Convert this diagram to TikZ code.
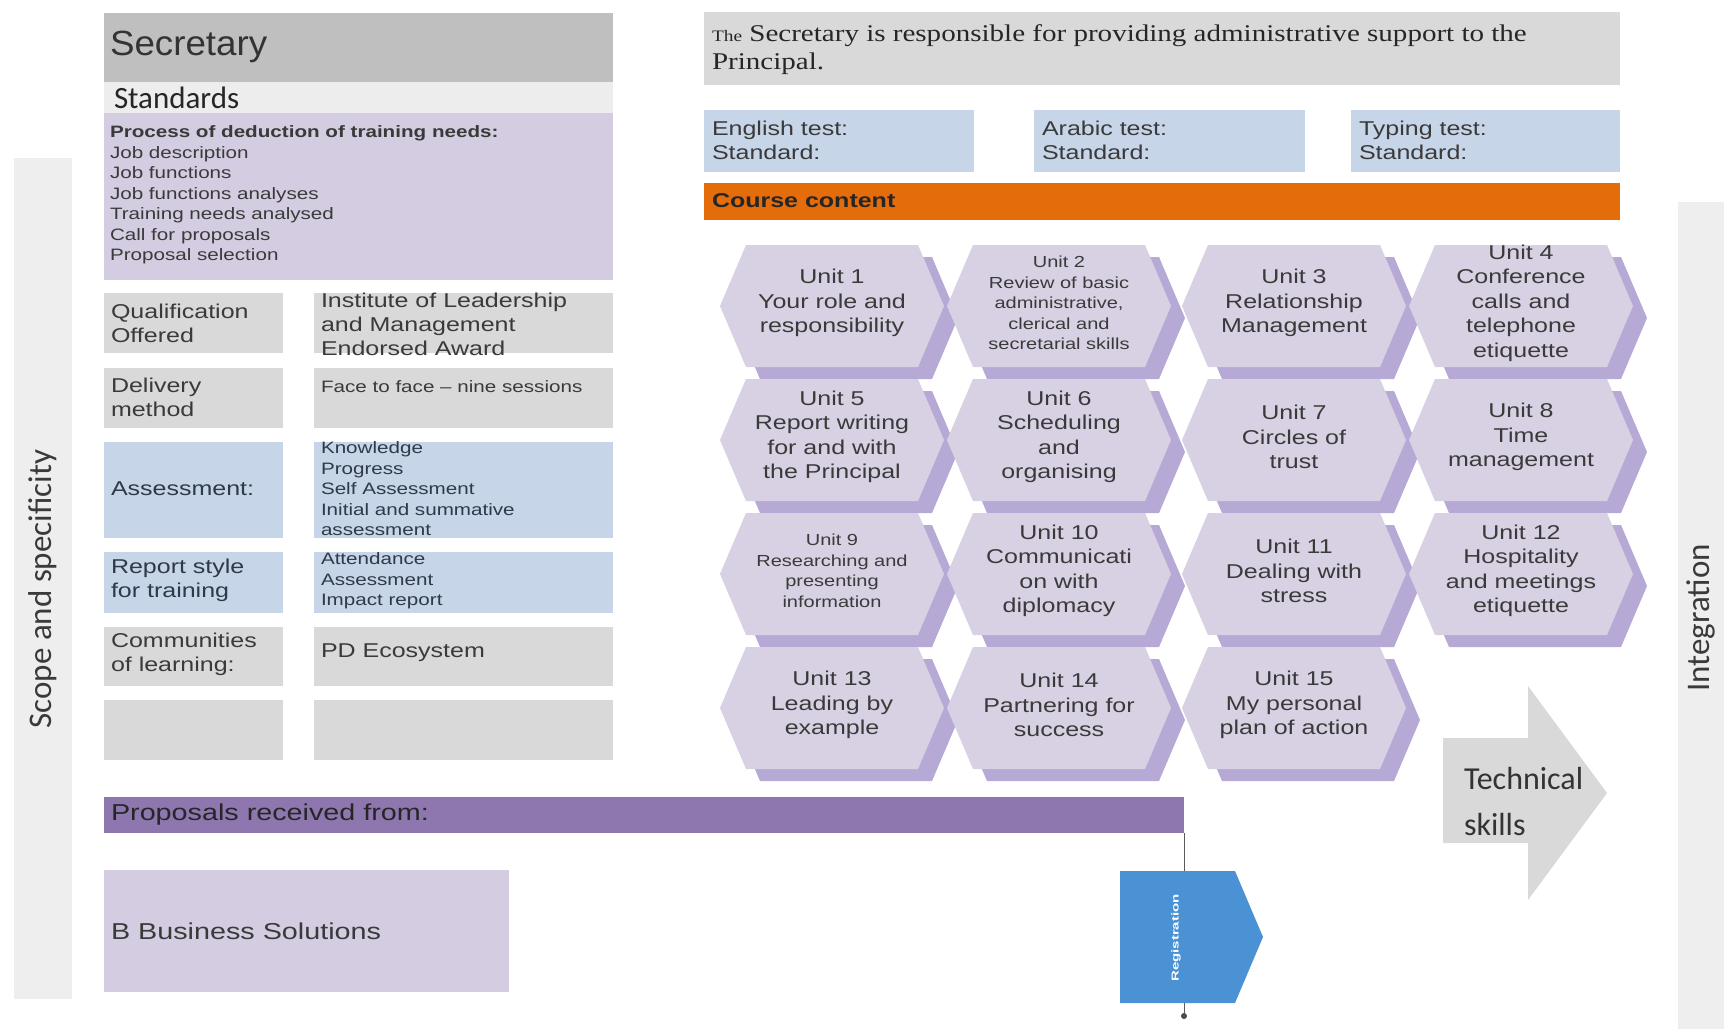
\documentclass[tikz,border=0pt]{standalone}
\usepackage{fontspec}
\setmainfont{Liberation Sans}
\newfontfamily\widesans{Liberation Sans}[FakeStretch=1.25]
\newfontfamily\headsans{Liberation Sans}[FakeStretch=1.05]
\newfontfamily\widserif{Liberation Serif}[FakeStretch=1.21]
\newfontfamily\calfont{Carlito}
\newfontfamily\tallsans{Liberation Sans}[FakeStretch=1.5]
\usetikzlibrary{calc}

\definecolor{boxgray}{HTML}{D9D9D9}
\definecolor{headgray}{HTML}{BFBFBF}
\definecolor{bandgray}{HTML}{EDEDED}
\definecolor{lavender}{HTML}{D4CCE1}
\definecolor{paleblue}{HTML}{C7D5E8}
\definecolor{courseorange}{HTML}{E46C0A}
\definecolor{proposalpurple}{HTML}{8E77AE}
\definecolor{hexface}{HTML}{D8D0E3}
\definecolor{hexshade}{HTML}{B6A9D5}
\definecolor{regblue}{HTML}{4B92D4}
\definecolor{sidegray}{HTML}{EEEEEE}
\definecolor{arrowgray}{HTML}{D9D9D9}
\definecolor{inkgray}{HTML}{3A3A3A}
\definecolor{inkblue}{HTML}{2E394A}

% rectangular panel: name, fill colour, x1, y1, x2, y2 (y grows downwards)
\newcommand\panel[6]{%
  \node[panelbox, fill=#2, minimum width={#5-#3}, minimum height={#6-#4}] (#1) at (#3,#4) {};}

% course unit: name, centre x, centre y, extra text options, text
\newcommand\unithex[5]{%
  \begin{scope}[shift={(#2,#3)}]
    \fill[hexshade] (-98,12) -- (-72,-49) -- (100,-49) -- (126,12) -- (100,73) -- (-72,73) -- cycle;
    \fill[hexface] (-112,0) -- (-86,-61) -- (86,-61) -- (112,0) -- (86,61) -- (-86,61) -- cycle;
    \node[unittext,#4] (#1) at (0,-3) {#5};
  \end{scope}}

\tikzset{
  panelbox/.style={rectangle, draw=none, inner sep=0, outer sep=0, anchor=north west},
  txt/.style={inner sep=0, outer sep=0, align=left, anchor=west, text=inkgray,
              font=\widesans\fontsize{20}{24}\selectfont},
  smalltxt/.style={txt, font=\widesans\fontsize{16.5}{20.5}\selectfont},
  unittext/.style={inner sep=0, outer sep=0, align=center, text=inkgray,
                   font=\widesans\fontsize{20}{24.5}\selectfont},
  unitsmall/.style={font=\widesans\fontsize{16}{20.5}\selectfont},
  sidetxt/.style={inner sep=0, rotate=90, text=inkgray, font=\calfont\fontsize{33}{36}\selectfont},
  link/.style={draw=black!65, line width=0.9pt}
}

\begin{document}
\begin{tikzpicture}[x=1pt, y=-1pt]
\useasboundingbox (0,0) rectangle (1724,1029);
\fill[white] (0,0) rectangle (1724,1029);

% side bars
\panel{scopebar}{sidegray}{14}{158}{72}{999}
\panel{integrationbar}{sidegray}{1678}{202}{1724}{1029}
\node[sidetxt] (scopelabel) at (43,589) {Scope and specificity};
\node[sidetxt] (integrationlabel) at (1701,618) {Integration};

% left column: role and standards
\panel{secretary}{headgray}{104}{13}{613}{82}
\panel{standards}{bandgray}{104}{82}{613}{113}
\panel{needs}{lavender}{104}{113}{613}{280}
\node[txt, font=\headsans\fontsize{35}{40}\selectfont, text=black!80] (secretarylabel) at (110,47) {Secretary};
\node[txt, font=\calfont\fontsize{31}{34}\selectfont, text=black!85] (standardslabel) at (114,98) {Standards};
\node[smalltxt] (needslist) at (110,195) {{\bfseries Process of deduction of training needs:}\\Job description\\Job functions\\Job functions analyses\\Training needs analysed\\Call for proposals\\Proposal selection};

% left column: table of course details
\panel{qualkey}{boxgray}{104}{293}{283}{353}
\panel{qualval}{boxgray}{314}{293}{613}{353}
\panel{delivkey}{boxgray}{104}{368}{283}{428}
\panel{delivval}{boxgray}{314}{368}{613}{428}
\panel{assesskey}{paleblue}{104}{442}{283}{538}
\panel{assessval}{paleblue}{314}{442}{613}{538}
\panel{reportkey}{paleblue}{104}{552}{283}{613}
\panel{reportval}{paleblue}{314}{552}{613}{613}
\panel{commkey}{boxgray}{104}{627}{283}{686}
\panel{commval}{boxgray}{314}{627}{613}{686}
\panel{blankkey}{boxgray}{104}{700}{283}{760}
\panel{blankval}{boxgray}{314}{700}{613}{760}

\node[txt] (qualkeytxt) at (111,323) {Qualification\\Offered};
\node[txt] (qualvaltxt) at (321,324) {Institute of Leadership\\and Management\\Endorsed Award};
\node[txt] (delivkeytxt) at (111,397) {Delivery\\method};
\node[smalltxt] (delivvaltxt) at (321,387) {Face to face – nine sessions};
\node[txt, text=inkblue] (assesskeytxt) at (111,489) {Assessment:};
\node[smalltxt, text=inkblue] (assessvaltxt) at (321,489) {Knowledge\\Progress\\Self Assessment\\Initial and summative\\assessment};
\node[txt, text=inkblue] (reportkeytxt) at (111,580) {Report style\\for training};
\node[smalltxt, text=inkblue] (reportvaltxt) at (321,581) {Attendance\\Assessment\\Impact report};
\node[txt] (commkeytxt) at (111,654) {Communities\\of learning:};
\node[txt] (commvaltxt) at (321,653) {PD Ecosystem};

% right column: summary, tests and course content
\panel{summary}{boxgray}{704}{12}{1620}{85}
\node[txt, font=\widserif\fontsize{24}{28}\selectfont, text=black!85] (summarytxt) at (712,50)
  {{\fontsize{16}{28}\selectfont The} Secretary is responsible for providing administrative support to the\\Principal.};
\panel{english}{paleblue}{704}{110}{974}{172}
\panel{arabic}{paleblue}{1034}{110}{1305}{172}
\panel{typing}{paleblue}{1351}{110}{1620}{172}
\node[txt] (englishtxt) at (712,140) {English test:\\Standard:};
\node[txt] (arabictxt) at (1042,140) {Arabic test:\\Standard:};
\node[txt] (typingtxt) at (1359,140) {Typing test:\\Standard:};
\panel{course}{courseorange}{704}{183}{1620}{220}
\node[txt, font=\widesans\bfseries\fontsize{20}{24}\selectfont, text=black!85] (coursetxt) at (712,201) {Course content};

% course units
\unithex{u1}{832}{306}{}{Unit 1\\Your role and\\responsibility}
\unithex{u2}{1059}{306}{unitsmall}{Unit 2\\Review of basic\\administrative,\\clerical and\\secretarial skills}
\unithex{u3}{1294}{306}{}{Unit 3\\Relationship\\Management}
\unithex{u4}{1521}{306}{}{Unit 4\\Conference\\calls and\\telephone\\etiquette}
\unithex{u5}{832}{440}{}{Unit 5\\Report writing\\for and with\\the Principal}
\unithex{u6}{1059}{440}{}{Unit 6\\Scheduling\\and\\organising}
\unithex{u7}{1294}{440}{}{Unit 7\\Circles of\\trust}
\unithex{u8}{1521}{440}{}{Unit 8\\Time\\management}
\unithex{u9}{832}{574}{unitsmall}{Unit 9\\Researching and\\presenting\\information}
\unithex{u10}{1059}{574}{}{Unit 10\\Communicati\\on with\\diplomacy}
\unithex{u11}{1294}{574}{}{Unit 11\\Dealing with\\stress}
\unithex{u12}{1521}{574}{}{Unit 12\\Hospitality\\and meetings\\etiquette}
\unithex{u13}{832}{708}{}{Unit 13\\Leading by\\example}
\unithex{u14}{1059}{708}{}{Unit 14\\Partnering for\\success}
\unithex{u15}{1294}{708}{}{Unit 15\\My personal\\plan of action}

% technical skills arrow
\fill[arrowgray] (1443,738) -- (1528,738) -- (1528,686) -- (1607,793) -- (1528,900) -- (1528,843) -- (1443,843) -- cycle;
\node[txt, font=\calfont\fontsize{32}{46}\selectfont, text=black!80] (techtxt) at (1464,801) {Technical\\skills};

% proposals
\panel{proposals}{proposalpurple}{104}{797}{1184}{833}
\node[txt, font=\widesans\fontsize{23}{27}\selectfont, text=black!85] (proposalstxt) at (111,815) {Proposals received from:};
\panel{business}{lavender}{104}{870}{509}{992}
\node[txt, font=\widesans\fontsize{23}{27}\selectfont] (businesstxt) at (111,931) {B Business Solutions};

% registration step and its connector
\coordinate (regend) at (1184,1016);
\draw[link] (proposals.south east) -- (regend);
\fill[black!70] (regend) circle (3);
\fill[regblue] (1120,871) -- (1235,871) -- (1263,937) -- (1235,1003) -- (1120,1003) -- cycle;
\node[inner sep=0, rotate=90, text=white, font=\tallsans\bfseries\fontsize{10}{12}\selectfont] (regtxt) at (1176,938) {Registration};
\end{tikzpicture}
\end{document}
